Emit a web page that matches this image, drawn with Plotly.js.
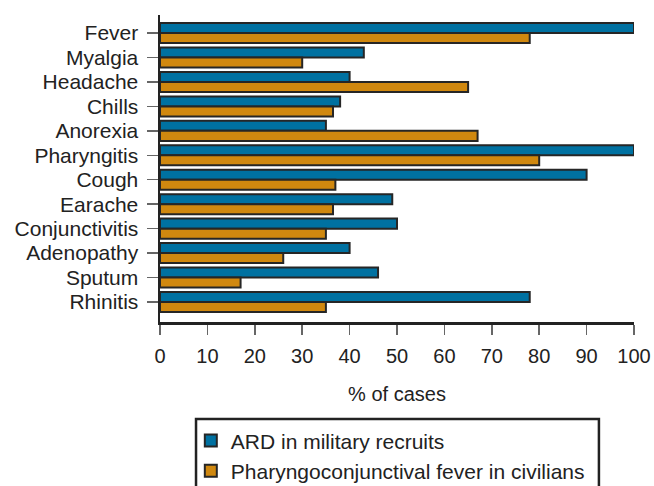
<!DOCTYPE html>
<html>
<head>
<meta charset="utf-8">
<script src="https://cdn.plot.ly/plotly-3.0.1.min.js"></script>
<style>html,body{margin:0;padding:0;background:#fff;}#chart{width:654px;height:486px;}</style>
</head>
<body>
<div id="chart"></div>
<script>
const symptoms = ["Fever","Myalgia","Headache","Chills","Anorexia","Pharyngitis","Cough","Earache","Conjunctivitis","Adenopathy","Sputum","Rhinitis"];
const ardRecruits = [100, 43, 40, 38, 35, 100, 90, 49, 50, 40, 46, 78];
const pcfCivilians = [78, 30, 65, 36.5, 67, 80, 37, 36.5, 35, 26, 17, 35];
const xTicks = [0,10,20,30,40,50,60,70,80,90,100];
const seriesNames = ["ARD in military recruits", "Pharyngoconjunctival fever in civilians"];

const FONT = "Liberation Sans, Arial, sans-serif";
const lineStyle = {color: "#262626", width: 2};

const traces = [
  {type: "bar", orientation: "h", name: seriesNames[0], y: symptoms, x: ardRecruits,
   marker: {color: "#0071a1", line: lineStyle}, hoverinfo: "x+y"},
  {type: "bar", orientation: "h", name: seriesNames[1], y: symptoms, x: pcfCivilians,
   marker: {color: "#d0880f", line: lineStyle}, hoverinfo: "x+y"}
];

const layout = {
  width: 654, height: 486,
  margin: {l: 160, r: 20, t: 15, b: 164, autoexpand: false},
  paper_bgcolor: "#fff", plot_bgcolor: "#fff",
  barmode: "group", bargap: 0.18, bargroupgap: 0,
  font: {family: FONT, size: 20, color: "#222"},
  xaxis: {
    range: [0, 100], tickmode: "array", tickvals: xTicks, ticktext: xTicks.map(String),
    showgrid: false, zeroline: false,
    showline: true, linecolor: "#222", linewidth: 2.5,
    ticks: "outside", ticklen: 10, tickwidth: 1.5, tickcolor: "#666",
    ticklabelstandoff: 4,
    tickfont: {family: FONT, size: 20, color: "#222"},
    title: {text: "% of cases", font: {family: FONT, size: 20, color: "#222"}, standoff: 22}
  },
  yaxis: {
    type: "category", categoryorder: "array", categoryarray: symptoms,
    tickmode: "array", tickvals: symptoms, ticktext: symptoms,
    range: [11.82, -0.74],
    showgrid: false, zeroline: false,
    showline: true, linecolor: "#222", linewidth: 2.5,
    ticks: "outside", ticklen: 11, tickwidth: 1.5, tickcolor: "#666",
    ticklabelstandoff: 4,
    tickfont: {family: FONT, size: 21, color: "#222"}
  },
  showlegend: true,
  legend: {
    x: 0.065, y: -0.32, xanchor: "left", yanchor: "top",
    orientation: "v", bgcolor: "rgba(0,0,0,0)", borderwidth: 0,
    font: {family: FONT, size: 21, color: "#222"},
    traceorder: "normal", itemclick: false, itemdoubleclick: false
  },
  shapes: [{
    type: "rect", xref: "paper", yref: "paper",
    x0: 0.076, x1: 0.926, y0: -0.316, y1: -0.6,
    line: {color: "#222", width: 2.5}, fillcolor: "rgba(0,0,0,0)", layer: "below"
  }]
};

Plotly.newPlot("chart", traces, layout, {displayModeBar: false, staticPlot: true});
</script>
</body>
</html>
